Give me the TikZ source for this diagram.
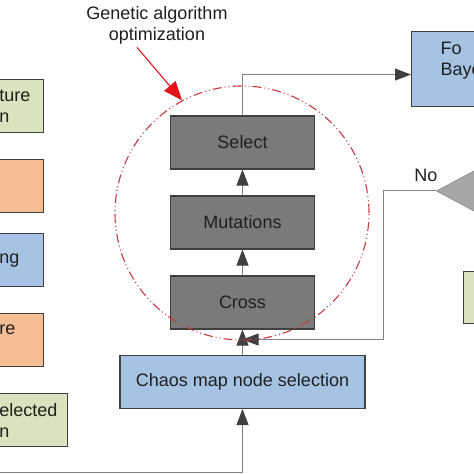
\documentclass[tikz,border=0pt]{standalone}
\usepackage{fontspec}
\setmainfont{Liberation Sans}
\usetikzlibrary{arrows.meta,positioning,shapes.geometric}
\definecolor{flowInk}{HTML}{1F1F1F}
\definecolor{flowLine}{HTML}{808080}
\definecolor{flowTip}{HTML}{404040}
\definecolor{flowGreen}{HTML}{D7E4BD}
\definecolor{flowOrange}{HTML}{F4BD94}
\definecolor{flowBlue}{HTML}{A7C3E3}
\definecolor{flowDark}{HTML}{7A7A7A}
\definecolor{flowTri}{HTML}{A6A6A6}
\definecolor{flowRed}{HTML}{C8383F}
\definecolor{flowBright}{HTML}{E3141C}
\tikzset{
  every picture/.style={font=\fontsize{18}{21}\selectfont, text=flowInk},
  flow box/.style={draw=flowTip, line width=1.1pt, minimum height=53pt, inner sep=0pt},
  side box/.style={flow box, align=left, inner xsep=13pt, text width=31pt},
  step box/.style={flow box, fill=flowDark, minimum width=144pt},
  flow arrow/.style={-{Triangle[length=16pt,width=12pt,color=flowTip]},
    draw=flowLine, line width=1pt},
  ga ring/.style={draw=flowRed, line width=1.1pt,
    dash pattern=on 9pt off 3pt on 1pt off 3pt on 1pt off 3pt},
  ga pointer/.style={-{Triangle[length=19pt,width=15pt]}, draw=flowBright, line width=1.1pt}
}
\begin{document}
\begin{tikzpicture}[x=1pt,y=1pt]
  \useasboundingbox (0,0) rectangle (474,474);
  \clip (0,0) rectangle (474,474);
  % boxes cut by the left edge
  \node[side box, fill=flowGreen, anchor=north east] (feat) at (44,395) {ture\\n};
  \node[flow box, fill=flowOrange, minimum width=60pt, anchor=north east] (orA) at (44,315) {};
  \node[side box, fill=flowBlue, anchor=north east] (train) at (44,241) {ng};
  \node[side box, fill=flowOrange, anchor=north east] (orB) at (44,161) {re\\~};
  \node[side box, fill=flowGreen, inner xsep=10pt, text width=58pt, anchor=north east] (subset) at (68,81) {elected\\n};
  % genetic loop
  \node[flow box, fill=flowBlue, minimum width=245pt] (chaos) at (242.5,92) {Chaos map node selection};
  \node[step box] (cross) at (242.5,171.5) {Cross};
  \node[step box] (mut) at (242.5,251.5) {Mutations};
  \node[step box] (sel) at (242.5,331.5) {Select};
  % boxes cut by the right edge
  \node[flow box, fill=flowBlue, minimum height=75pt, align=left, inner xsep=29pt,
    text width=60pt, anchor=north west] (bay) at (411,443) {Fo\\Baye\\~};
  \node[diamond, draw=flowLine, fill=flowTri, minimum width=150pt, minimum height=80pt,
    inner sep=0pt, anchor=west] (dia) at (436,283) {};
  \node[flow box, fill=flowGreen, minimum width=60pt, minimum height=52pt, anchor=north west] (res) at (463,203) {};
  \coordinate (src) at (-5,1);
  \coordinate (join) at ([yshift=-10pt]cross.south);
  % connectors
  \draw[flow arrow] (src) -| (chaos.south);
  \draw[flow arrow] (chaos.north) -- (cross.south);
  \draw[flow arrow] (cross.north) -- (mut.south);
  \draw[flow arrow] (mut.north) -- (sel.south);
  \draw[flow arrow] (sel.north) |- ([yshift=-5.5pt]bay.west);
  \draw[flow arrow] (dia.west) -- ++(-53,0) |- (join);
  \node (no) at (426,299) {No};
  % optimisation ring
  \node[ga ring, circle, minimum size=254pt] (ring) at (242,261) {};
  \node[align=center] (gen) at (157,449) {Genetic algorithm\\optimization};
  \draw[ga pointer] ([xshift=-20pt]gen.south) -- (ring.118);
\end{tikzpicture}
\end{document}
